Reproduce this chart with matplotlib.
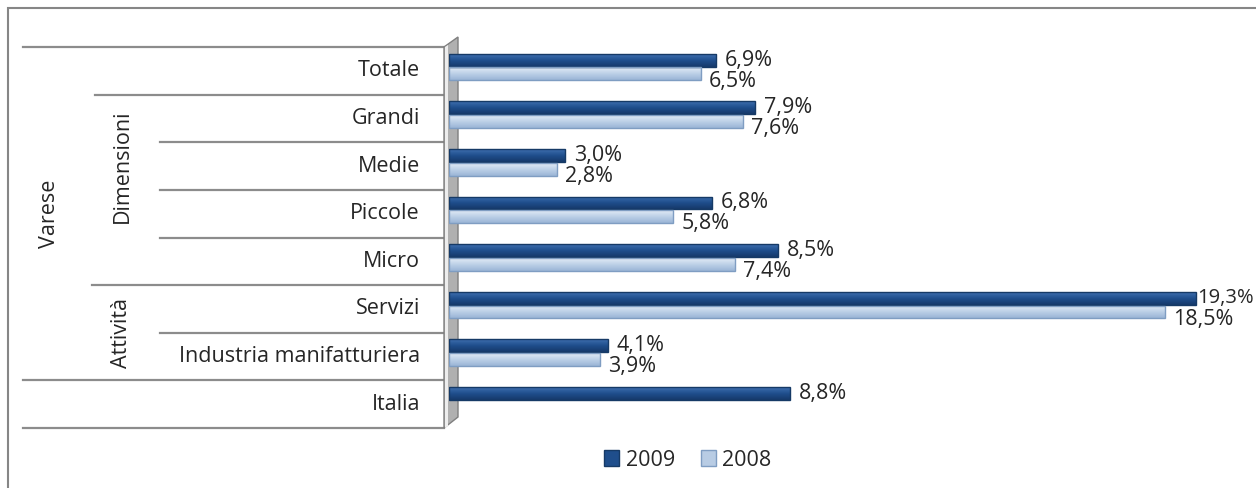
import matplotlib
matplotlib.use("Agg")
import matplotlib.pyplot as plt
import numpy as np
from matplotlib.patches import Polygon, Rectangle, Patch
from matplotlib.lines import Line2D
from matplotlib.colors import LinearSegmentedColormap

categories = ["Totale", "Grandi", "Medie", "Piccole", "Micro", "Servizi",
              "Industria manifatturiera", "Italia"]
values_2009 = [6.9, 7.9, 3.0, 6.8, 8.5, 19.3, 4.1, 8.8]
values_2008 = [6.5, 7.6, 2.8, 5.8, 7.4, 18.5, 3.9, None]
series_names = ["2009", "2008"]
group_labels = [("Varese", 3.0, 50), ("Dimensioni", 2.0, 122), ("Attività", 5.5, 122)]

W, H = 1256, 488
plt.rcParams['font.family'] = ['Open Sans', 'DejaVu Sans']
fig = plt.figure(figsize=(W / 100, H / 100), dpi=100)

def fx(x):
    return x / W

def fy(y):
    return 1 - y / H

C_DARK = "#1F4E8C"
C_DARK_EDGE = "#163A66"
C_LIGHT = "#B8CCE4"
C_LIGHT_EDGE = "#7F9DC2"
TXT = "#262626"
FS = 15.5

cm_dark = LinearSegmentedColormap.from_list("d", ["#3F70B0", "#1F4E8C", "#16396A"])
cm_light = LinearSegmentedColormap.from_list("l", ["#E3ECF6", "#BCD0E7", "#9AB5D6"])

# outer border
fig.patches.append(Rectangle((fx(8), -0.1), 1.2, fy(8) + 0.1, transform=fig.transFigure,
                             fill=False, edgecolor="#868686", linewidth=1.5))

top_px, bot_px = 47, 428
# label axes
lax = fig.add_axes([0, fy(bot_px), fx(444), fy(top_px) - fy(bot_px)])
lax.set_xlim(0, 444)
lax.set_ylim(7.5, -0.5)
lax.axis("off")
line_spans = [(-0.5, 23), (0.5, 95), (1.5, 160), (2.5, 160), (3.5, 160),
              (4.5, 92), (5.5, 160), (6.5, 23), (7.5, 23)]
for yv, x0 in line_spans:
    lax.add_line(Line2D([x0, 444], [yv, yv], color="#8C8C8C", linewidth=1.6,
                        clip_on=False))
for i, c in enumerate(categories):
    lax.text(420, i, c, ha="right", va="center", fontsize=FS, color=TXT)
for name, yv, xv in group_labels:
    lax.text(xv, yv, name, ha="center", va="center", rotation=90, fontsize=FS, color=TXT)

# 3D wall
fig.patches.append(Polygon([(fx(444), fy(47)), (fx(458), fy(37)), (fx(458), fy(417)), (fx(444), fy(428))],
                           closed=True, transform=fig.transFigure, facecolor="#B0B0B0",
                           edgecolor="#7F7F7F", linewidth=1.0, zorder=1))
fig.patches.append(Polygon([(fx(445), fy(47)), (fx(448), fy(45)), (fx(448), fy(426)), (fx(445), fy(428))],
                           closed=True, transform=fig.transFigure, facecolor="#EDEDED",
                           edgecolor="none", zorder=1))

# main axes
left_px, right_px = 449, 1245
scale = 38.7
ax = fig.add_axes([fx(left_px), fy(bot_px), fx(right_px - left_px), fy(top_px) - fy(bot_px)])
ax.patch.set_alpha(0)
ax.set_xlim(0, (right_px - left_px) / scale)
ax.set_ylim(7.5, -0.5)
ax.axis("off")
ax.set_zorder(3)

grad = np.linspace(0, 1, 64).reshape(-1, 1)

def gradient_bar(y, v, cmap, edge):
    bars = ax.barh(y, v, height=bh, color="none", edgecolor=edge, linewidth=1.0, zorder=3)
    p = bars.patches[0]
    x0, y0 = p.get_x(), p.get_y()
    im = ax.imshow(grad, cmap=cmap, aspect="auto", extent=(x0, x0 + p.get_width(), y0 + p.get_height(), y0),
                   origin="upper", zorder=2, interpolation="bilinear")
    im.set_clip_path(p)
    ax.set_xlim(0, (right_px - left_px) / scale)
    ax.set_ylim(7.5, -0.5)

bh = 0.27
labels = []
for i, (v9, v8) in enumerate(zip(values_2009, values_2008)):
    y9 = i - 0.225
    y8 = i + 0.065
    gradient_bar(y9, v9, cm_dark, C_DARK_EDGE)
    labels.append((ax.text(v9 + 9 / scale, y9, f"{v9:.1f}%".replace(".", ","), ha="left",
                           va="center", fontsize=FS, color=TXT), v9, y9))
    if v8 is not None:
        gradient_bar(y8, v8, cm_light, C_LIGHT_EDGE)
        labels.append((ax.text(v8 + 8 / scale, y8 + 0.15, f"{v8:.1f}%".replace(".", ","),
                               ha="left", va="center", fontsize=FS, color=TXT), v8, y8 + 0.15))

handles = [Patch(facecolor=C_DARK, edgecolor=C_DARK_EDGE, label=series_names[0]),
           Patch(facecolor=C_LIGHT, edgecolor=C_LIGHT_EDGE, label=series_names[1])]
fig.legend(handles=handles, loc="center", bbox_to_anchor=(fx(688), fy(460)), ncol=2,
           frameon=False, fontsize=FS, handlelength=0.7, handleheight=0.7,
           handletextpad=0.3, columnspacing=1.2, labelcolor=TXT)

# keep labels inside the figure: pull overflowing labels up against the bar end
fig.canvas.draw()
r = fig.canvas.get_renderer()
for t, v, y in labels:
    bb = t.get_window_extent(r)
    if bb.x1 > W - 2:
        t.set_position((v + 1 / scale, y))
        t.set_fontsize(FS - 1)

fig.savefig("out.png", dpi=100)
